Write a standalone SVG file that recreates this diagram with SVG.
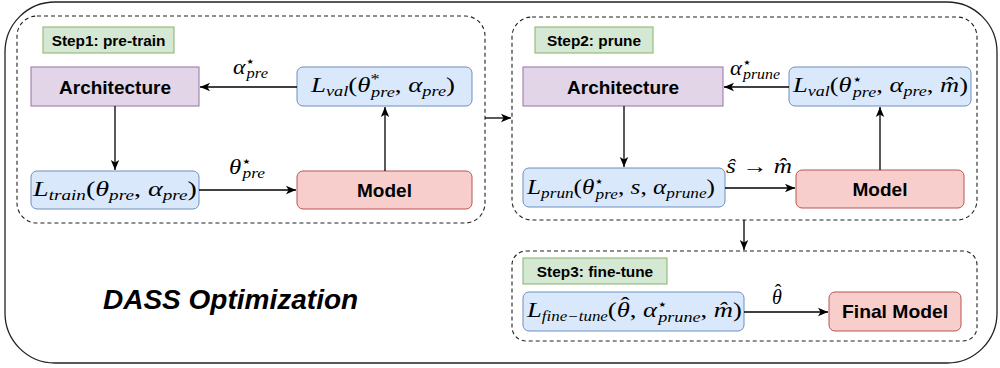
<svg xmlns="http://www.w3.org/2000/svg" width="1000" height="368" viewBox="0 0 1000 368">
  <defs>
    <marker id="arrow" markerUnits="userSpaceOnUse" markerWidth="12" markerHeight="10" refX="10" refY="5" orient="auto">
      <path d="M0,0.8 L10,5 L0,9.2 L2.6,5 Z" fill="#000"/>
    </marker>
    <style>
      .outer { fill: #fff; stroke: #222; stroke-width: 1.3; }
      .group { fill: none; stroke: #222; stroke-width: 1.1; stroke-dasharray: 4 3; }
      .step { fill: #d5e8d4; stroke: #82b366; stroke-width: 1; }
      .arch { fill: #e1d5e7; stroke: #9673a6; stroke-width: 1; }
      .loss { fill: #dae8fc; stroke: #6c8ebf; stroke-width: 1; }
      .model { fill: #f8cecc; stroke: #b85450; stroke-width: 1; }
      .steptxt { font-family: "Liberation Sans", Arial, sans-serif; font-weight: bold; font-size: 15.4px; fill: #000; text-anchor: middle; }
      .nodetxt { font-family: "Liberation Sans", Arial, sans-serif; font-weight: bold; font-size: 19px; fill: #000; text-anchor: middle; }
      .math { font-family: "Liberation Serif", "DejaVu Serif", serif; font-size: 22px; fill: #000; }
      .mathlbl { font-family: "Liberation Serif", "DejaVu Serif", serif; font-size: 20px; fill: #000; }
      .i { font-style: italic; }
      .sub { font-size: 15px; font-style: italic; }
      .lsub { font-size: 14px; font-style: italic; }
      .sup { font-size: 14px; font-family: "DejaVu Serif", serif; }
      .ast { font-size: 15px; font-style: normal; }
      .title { font-family: "Liberation Sans", Arial, sans-serif; font-weight: bold; font-style: italic; font-size: 28px; fill: #000; }
      .edge { fill: none; stroke: #000; stroke-width: 1.3; marker-end: url(#arrow); }
    </style>
  </defs>

  <!-- outer frame -->
  <rect class="outer" x="5" y="2" width="992" height="361" rx="50" ry="50"/>
  <text class="title" x="103" y="309">DASS Optimization</text>

  <!-- step containers -->
  <g id="step1">
    <rect class="group" x="17" y="16" width="468" height="207" rx="20" ry="20"/>
    <rect class="step" x="43" y="27" width="131" height="26"/>
    <text class="steptxt" x="108.5" y="45.5">Step1: pre-train</text>
  </g>
  <g id="step2">
    <rect class="group" x="512" y="17" width="465" height="203" rx="20" ry="20"/>
    <rect class="step" x="535" y="27" width="118" height="26"/>
    <text class="steptxt" x="594" y="45.5">Step2: prune</text>
  </g>
  <g id="step3">
    <rect class="group" x="512" y="251" width="465" height="90" rx="14" ry="14"/>
    <rect class="step" x="523" y="258" width="144" height="26"/>
    <text class="steptxt" x="595" y="276.5">Step3: fine-tune</text>
  </g>

  <!-- step 1 nodes -->
  <g id="arch1">
    <rect class="arch" x="31" y="67" width="168" height="39"/>
    <text class="nodetxt" x="115" y="93.5">Architecture</text>
  </g>
  <g id="lval1">
    <rect class="loss" x="297" y="67" width="175" height="39" rx="6" ry="6"/>
    <text class="math" x="311" y="92" textLength="144" lengthAdjust="spacingAndGlyphs"><tspan class="i">L</tspan><tspan class="sub" dy="4">val</tspan><tspan dy="-4">(</tspan><tspan class="i">θ</tspan><tspan class="ast" dy="-8">*</tspan><tspan class="sub" dx="-7" dy="13">pre</tspan><tspan dy="-5">, </tspan><tspan class="i">α</tspan><tspan class="sub" dy="4">pre</tspan><tspan dy="-4">)</tspan></text>
  </g>
  <g id="ltrain1">
    <rect class="loss" x="31" y="171" width="168" height="38" rx="6" ry="6"/>
    <text class="math" x="33" y="196" textLength="164" lengthAdjust="spacingAndGlyphs"><tspan class="i">L</tspan><tspan class="sub" dy="4">train</tspan><tspan dy="-4">(</tspan><tspan class="i">θ</tspan><tspan class="sub" dy="4">pre</tspan><tspan dy="-4">, </tspan><tspan class="i">α</tspan><tspan class="sub" dy="4">pre</tspan><tspan dy="-4">)</tspan></text>
  </g>
  <g id="model1">
    <rect class="model" x="297" y="171" width="175" height="38" rx="6" ry="6"/>
    <text class="nodetxt" x="384.5" y="197">Model</text>
  </g>

  <!-- step 2 nodes -->
  <g id="arch2">
    <rect class="arch" x="523" y="67" width="200" height="39"/>
    <text class="nodetxt" x="623" y="93.5">Architecture</text>
  </g>
  <g id="lval2">
    <rect class="loss" x="789" y="67" width="182" height="39" rx="6" ry="6"/>
    <text class="math" x="793" y="92" textLength="175" lengthAdjust="spacingAndGlyphs"><tspan class="i">L</tspan><tspan class="sub" dy="4">val</tspan><tspan dy="-4">(</tspan><tspan class="i">θ</tspan><tspan class="sup" dy="-8">⋆</tspan><tspan class="sub" dx="-8" dy="13">pre</tspan><tspan dy="-5">, </tspan><tspan class="i">α</tspan><tspan class="sub" dy="4">pre</tspan><tspan dy="-4">, </tspan><tspan class="i">m̂</tspan><tspan>)</tspan></text>
  </g>
  <g id="lprun2">
    <rect class="loss" x="523" y="168" width="202" height="39" rx="6" ry="6"/>
    <text class="math" x="527" y="194" textLength="188" lengthAdjust="spacingAndGlyphs"><tspan class="i">L</tspan><tspan class="sub" dy="4">prun</tspan><tspan dy="-4">(</tspan><tspan class="i">θ</tspan><tspan class="sup" dy="-8">⋆</tspan><tspan class="sub" dx="-8" dy="13">pre</tspan><tspan dy="-5">, </tspan><tspan class="i">s</tspan><tspan>, </tspan><tspan class="i">α</tspan><tspan class="sub" dy="4">prune</tspan><tspan dy="-4">)</tspan></text>
  </g>
  <g id="model2">
    <rect class="model" x="796" y="170" width="168" height="38" rx="6" ry="6"/>
    <text class="nodetxt" x="880" y="196">Model</text>
  </g>

  <!-- step 3 nodes -->
  <g id="lfine3">
    <rect class="loss" x="523" y="292" width="221" height="39" rx="6" ry="6"/>
    <text class="math" x="527" y="317" textLength="215" lengthAdjust="spacingAndGlyphs"><tspan class="i">L</tspan><tspan class="lsub" dy="4">fine−tune</tspan><tspan dy="-4">(</tspan><tspan class="i">θ</tspan><tspan dx="-7.5" dy="-5">ˆ</tspan><tspan dx="0" dy="5">, </tspan><tspan class="i">α</tspan><tspan class="sup" dy="-8">⋆</tspan><tspan class="sub" dx="-8" dy="13">prune</tspan><tspan dy="-5">, </tspan><tspan class="i">m̂</tspan><tspan>)</tspan></text>
  </g>
  <g id="final3">
    <rect class="model" x="829" y="292" width="132" height="39" rx="6" ry="6"/>
    <text class="nodetxt" x="895" y="318" textLength="106" lengthAdjust="spacingAndGlyphs">Final Model</text>
  </g>

  <!-- connectors -->
  <g id="connectors">
    <line class="edge" x1="297" y1="87" x2="200" y2="87"/>
    <line class="edge" x1="115" y1="106" x2="115" y2="170"/>
    <line class="edge" x1="199" y1="190" x2="296" y2="190"/>
    <line class="edge" x1="385" y1="171" x2="385" y2="107"/>
    <line class="edge" x1="485" y1="118" x2="511" y2="118"/>
    <line class="edge" x1="789" y1="87" x2="724" y2="87"/>
    <line class="edge" x1="624" y1="106" x2="624" y2="167"/>
    <line class="edge" x1="725" y1="188" x2="795" y2="188"/>
    <line class="edge" x1="880" y1="170" x2="880" y2="107"/>
    <line class="edge" x1="744" y1="220" x2="744" y2="250"/>
    <line class="edge" x1="744" y1="312" x2="828" y2="312"/>

    <!-- edge labels -->
    <text class="mathlbl" x="233" y="74" textLength="35" lengthAdjust="spacingAndGlyphs"><tspan class="i">α</tspan><tspan class="sup" dy="-8">⋆</tspan><tspan class="lsub" dx="-8" dy="12">pre</tspan></text>
    <text class="mathlbl" x="229" y="174" textLength="36" lengthAdjust="spacingAndGlyphs"><tspan class="i">θ</tspan><tspan class="sup" dy="-8">⋆</tspan><tspan class="lsub" dx="-8" dy="12">pre</tspan></text>
    <text class="mathlbl" x="730" y="75" textLength="50" lengthAdjust="spacingAndGlyphs"><tspan class="i">α</tspan><tspan class="sup" dy="-8">⋆</tspan><tspan class="lsub" dx="-8" dy="12">prune</tspan></text>
    <text class="mathlbl" x="726" y="173" textLength="66" lengthAdjust="spacingAndGlyphs"><tspan class="i">ŝ</tspan><tspan> → </tspan><tspan class="i">m̂</tspan></text>
    <text class="mathlbl" x="772" y="304"><tspan class="i">θ</tspan><tspan dx="-7" dy="-5">ˆ</tspan></text>
  </g>
</svg>
